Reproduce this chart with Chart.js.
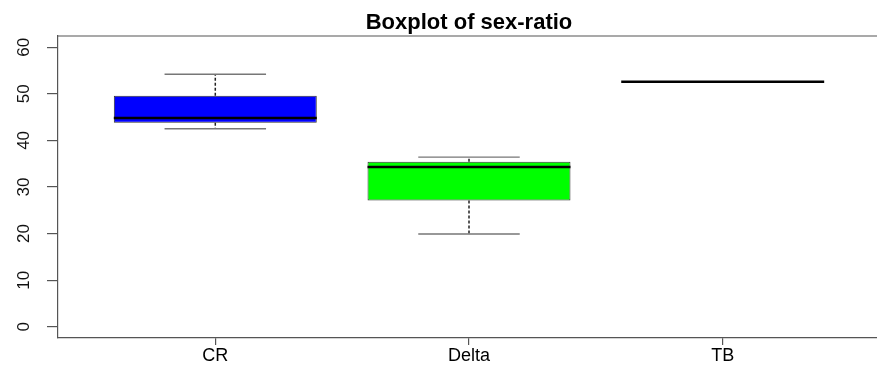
<!DOCTYPE html>
<html>
<head>
<meta charset="utf-8">
<script src="https://cdn.jsdelivr.net/npm/chart.js@4/dist/chart.umd.min.js"></script>
<style>
  html, body { margin: 0; padding: 0; background: #fff; overflow: hidden; }
  #wrap { width: 877px; height: 367px; overflow: hidden; }
  canvas { display: block; }
</style>
</head>
<body>
<div id="wrap"><canvas id="c" width="938" height="367"></canvas></div>
<script>
// Sex-ratio summary per site: five-number summaries
const categories  = ['CR', 'Delta', 'TB'];
const whiskerLow  = [42.5, 19.9, 52.6];
const boxLow      = [43.8, 27.1, 52.6];
const medians     = [44.8, 34.3, 52.6];
const boxHigh     = [49.6, 35.4, 52.6];
const whiskerHigh = [54.2, 36.4, 52.6];
const boxColors   = ['#0000FF', '#00FF00', '#FFFFFF'];
const yTicks      = [0, 10, 20, 30, 40, 50, 60];

const FONT = 'Liberation Sans, Arial, Helvetica, sans-serif';

// Whiskers, caps, medians, top frame line and rotated y labels
const boxExtras = {
  id: 'boxExtras',
  afterDatasetsDraw(chart) {
    const { ctx, chartArea } = chart;
    const xs = chart.scales.x, ys = chart.scales.y;
    const unit = xs.getPixelForValue(2) - xs.getPixelForValue(1);
    const boxHalf = unit * 0.4;
    const capHalf = unit * 0.2;
    ctx.save();
    categories.forEach((c, i) => {
      const cx = xs.getPixelForValue(i + 1);
      const yLo = ys.getPixelForValue(whiskerLow[i]);
      const yHi = ys.getPixelForValue(whiskerHigh[i]);
      const yQ1 = ys.getPixelForValue(boxLow[i]);
      const yQ3 = ys.getPixelForValue(boxHigh[i]);
      const yMed = ys.getPixelForValue(medians[i]);
      // dashed whiskers
      ctx.strokeStyle = '#222';
      ctx.lineWidth = 1.5;
      ctx.setLineDash([3, 2]);
      ctx.beginPath();
      ctx.moveTo(cx, yQ3); ctx.lineTo(cx, yHi);
      ctx.moveTo(cx, yQ1); ctx.lineTo(cx, yLo);
      ctx.stroke();
      ctx.setLineDash([]);
      // caps
      if (whiskerHigh[i] !== whiskerLow[i]) {
        ctx.strokeStyle = '#777';
        ctx.lineWidth = 1.4;
        ctx.beginPath();
        ctx.moveTo(cx - capHalf, yHi); ctx.lineTo(cx + capHalf, yHi);
        ctx.moveTo(cx - capHalf, yLo); ctx.lineTo(cx + capHalf, yLo);
        ctx.stroke();
      }
      // median
      ctx.strokeStyle = '#000';
      ctx.lineWidth = 2.5;
      ctx.beginPath();
      ctx.moveTo(cx - boxHalf, yMed); ctx.lineTo(cx + boxHalf, yMed);
      ctx.stroke();
    });
    // top edge of the plot frame
    ctx.strokeStyle = '#555';
    ctx.lineWidth = 1.2;
    ctx.beginPath();
    ctx.moveTo(chartArea.left, chartArea.top);
    ctx.lineTo(chartArea.right, chartArea.top);
    ctx.stroke();
    // y tick labels, rotated
    ctx.fillStyle = '#111';
    ctx.font = '17px ' + FONT;
    ctx.textAlign = 'center';
    ctx.textBaseline = 'middle';
    yTicks.forEach(v => {
      ctx.save();
      ctx.translate(24, ys.getPixelForValue(v));
      ctx.rotate(-Math.PI / 2);
      ctx.fillText(String(v), 0, 0);
      ctx.restore();
    });
    ctx.restore();
  }
};

new Chart(document.getElementById('c'), {
  type: 'bar',
  data: {
    datasets: [{
      data: categories.map((c, i) => ({ x: i + 1, y: [boxLow[i], boxHigh[i]] })),
      backgroundColor: boxColors,
      borderColor: '#333',
      borderWidth: 1,
      borderSkipped: false,
      barPercentage: 0.8,
      categoryPercentage: 1
    }]
  },
  options: {
    responsive: false,
    animation: false,
    devicePixelRatio: 1,
    layout: { padding: { left: 58, right: 58, top: 0, bottom: 0 } },
    plugins: {
      legend: { display: false },
      tooltip: { enabled: false },
      title: {
        display: true,
        text: 'Boxplot of sex-ratio',
        color: '#000',
        font: { family: FONT, size: 22, weight: 'bold', lineHeight: 1 },
        padding: { top: 11.5, bottom: 2.5 }
      }
    },
    scales: {
      x: {
        type: 'linear',
        offset: false,
        min: 0.38,
        max: 3.62,
        afterBuildTicks: s => { s.ticks = categories.map((c, i) => ({ value: i + 1 })); },
        afterFit: s => { s.height = 29; },
        ticks: {
          autoSkip: false,
          maxRotation: 0,
          padding: 0,
          color: '#000',
          font: { family: FONT, size: 18 },
          callback: v => categories[v - 1]
        },
        grid: { display: true, offset: false, drawOnChartArea: false, drawTicks: true, tickLength: 7, color: '#555', lineWidth: 1.2 },
        border: { display: true, color: '#555', width: 1.2 }
      },
      y: {
        min: -2.4,
        max: 62.4,
        afterBuildTicks: s => { s.ticks = yTicks.map(v => ({ value: v })); },
        afterFit: s => { s.width = 0; },
        ticks: { display: false },
        grid: { display: true, drawOnChartArea: false, drawTicks: true, tickLength: 11, color: '#555', lineWidth: 1.2 },
        border: { display: true, color: '#555', width: 1.2 }
      }
    }
  },
  plugins: [boxExtras]
});
</script>
</body>
</html>
